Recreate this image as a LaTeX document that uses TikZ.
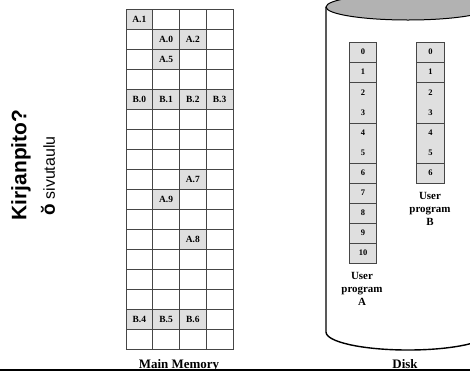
\documentclass[tikz,border=0pt]{standalone}
\usepackage{fontspec}
\usetikzlibrary{shapes.geometric}
\setmainfont{Liberation Serif}
\newfontfamily\arialfont{Liberation Sans}
\begin{document}
\begin{tikzpicture}[x=1bp,y=-1bp,
  cell/.style={draw=gray!55!black, line width=0.7bp, minimum width=26.75bp, minimum height=20bp, inner sep=0pt, outer sep=0pt},
  fullcell/.style={cell, fill=gray!25, font=\bfseries\fontsize{9.5}{10}\selectfont},
  dcell/.style={draw=gray!55!black, fill=gray!25, line width=0.7bp, minimum width=27.5bp, inner sep=0pt, outer sep=0pt, align=center, font=\bfseries\fontsize{8.5}{20}\selectfont},
  lbl/.style={font=\bfseries\fontsize{13}{14}\selectfont, anchor=base, inner sep=0pt},
  prog/.style={align=center, font=\bfseries\fontsize{11}{13}\selectfont, inner sep=0pt},
  disk/.style={line width=1.4bp, draw=black}
]
\useasboundingbox (0,0) rectangle (470,371);
\clip (0,0) rectangle (470,371);

% Main memory grid
\foreach \r in {0,...,16}
  \foreach \c in {0,...,3}
    \node[cell] (m-\r-\c) at ({126+26.75*(\c+0.5)},{9+20*(\r+0.5)}) {};
\foreach \r/\c/\t in {0/0/A.1, 1/1/A.0, 1/2/A.2, 2/1/A.5, 4/0/B.0, 4/1/B.1, 4/2/B.2, 4/3/B.3,
  8/2/A.7, 9/1/A.9, 11/2/A.8, 15/0/B.4, 15/1/B.5, 15/2/B.6}
  \node[fullcell] (f-\r-\c) at ({126+26.75*(\c+0.5)},{9+20*(\r+0.5)}) {\t};
\node[lbl] (mm) at (179,368) {Main Memory};

% Disk cylinder
\draw[disk] (326,7) -- (326,332) coordinate (bl)
  arc[start angle=180, end angle=360, x radius=82bp, y radius=18bp] -- (490,7);
\node[draw=black, line width=1bp, fill=gray!60, ellipse, minimum width=164bp, minimum height=26bp, inner sep=0pt] (top) at (408,7) {};
\node[lbl] (dk) at (405,368) {Disk};

% User program A
\node[dcell, minimum height=20bp] (a0) at (363,52) {0};
\node[dcell, minimum height=20bp] (a1) at (363,72) {1};
\node[dcell, minimum height=41bp] (a23) at (363,102.5) {2\\3};
\node[dcell, minimum height=40bp] (a45) at (363,143) {4\\5};
\node[dcell, minimum height=20bp] (a6) at (363,173) {6};
\node[dcell, minimum height=20bp] (a7) at (363,193) {7};
\node[dcell, minimum height=20bp] (a8) at (363,213) {8};
\node[dcell, minimum height=20bp] (a9) at (363,233) {9};
\node[dcell, minimum height=20bp] (a10) at (363,253) {10};
\node[prog] (pa) at (362,289) {User\\program\\A};

% User program B
\node[dcell, minimum height=20bp] (b0) at (430.5,52) {0};
\node[dcell, minimum height=20bp] (b1) at (430.5,72) {1};
\node[dcell, minimum height=41bp] (b23) at (430.5,102.5) {2\\3};
\node[dcell, minimum height=40bp] (b45) at (430.5,143) {4\\5};
\node[dcell, minimum height=20bp] (b6) at (430.5,173) {6};
\node[prog] (pb) at (430,209) {User\\program\\B};

% Left text
\node[rotate=90, inner sep=0pt, font=\arialfont\bfseries\fontsize{21}{24}\selectfont] (kp) at (21,165) {Kirjanpito?};
\node[rotate=90, inner sep=0pt, font=\arialfont\fontsize{16}{18}\selectfont] (st) at (48,176) {{\bfseries\fontsize{19}{20}\selectfont ŏ} sivutaulu};

% Bottom rule
\coordinate (r0) at (0,370);
\coordinate (r1) at (470,370);
\draw[line width=1.5bp] (r0) -- (r1);
\end{tikzpicture}
\end{document}
